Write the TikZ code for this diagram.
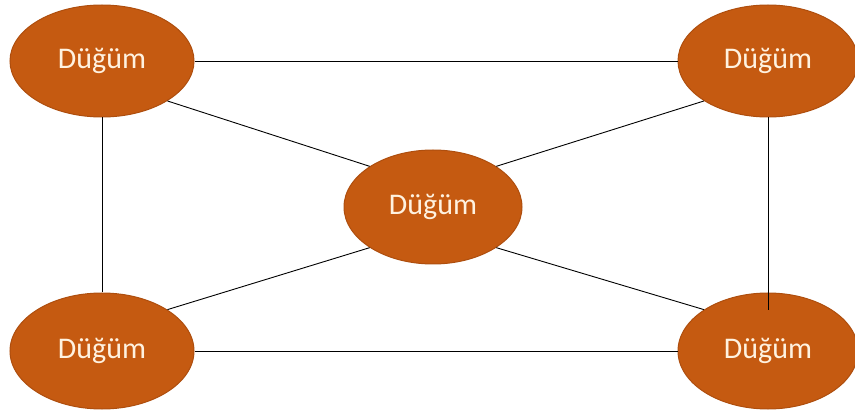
\documentclass[tikz,border=0pt]{standalone}
\usepackage{fontspec}
\setmainfont{Carlito}
\usetikzlibrary{shapes.geometric}
\definecolor{dugumfill}{RGB}{197,90,17}
\definecolor{dugumline}{RGB}{174,78,14}
\definecolor{dugumtext}{RGB}{255,242,224}
\begin{document}
\begin{tikzpicture}[x=1pt,y=-1pt,
    dugum/.style={ellipse,fill=dugumfill,draw=dugumline,line width=1pt,inner sep=0pt,
        text=dugumtext,font=\fontsize{30}{36}\selectfont},
    kenar/.style={draw=black,line width=0.9pt}]
                \useasboundingbox (0,0) rectangle (855,414);
                \node [dugum,minimum width=184,minimum height=112] (ul) at (102,61) {Düğüm};
                \node [dugum,minimum width=180,minimum height=112] (ur) at (768,61) {Düğüm};
                \node [dugum,minimum width=178,minimum height=114] (m) at (433,207) {Düğüm};
                \node [dugum,minimum width=184,minimum height=116] (ll) at (102,351) {Düğüm};
                \node [dugum,minimum width=180,minimum height=116] (lr) at (768,351) {Düğüm};
                \coordinate (lrtop) at (768,310);
                \draw [kenar] (ul.east) -- (ur.west);
                \draw [kenar] (ll.east) -- (lr.west);
                \draw [kenar] (ul.south) -- (ll.north);
                \draw [kenar] (ur.south) -- (lrtop);
                \draw [kenar] (ul.south east) -- (m.north west);
                \draw [kenar] (ur.south west) -- (m.north east);
                \draw [kenar] (ll.north east) -- (m.south west);
                \draw [kenar] (lr.north west) -- (m.south east);
\end{tikzpicture}
\end{document}
